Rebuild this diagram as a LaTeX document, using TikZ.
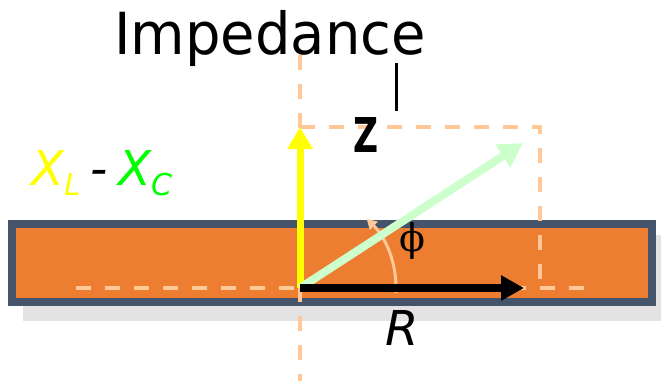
\documentclass[tikz,border=0pt]{standalone}
\usepackage{fontspec}
\setmainfont{DejaVu Sans}
\newfontfamily\phifont{DejaVu Serif}
\usetikzlibrary{arrows.meta, calc}
\definecolor{impOrange}{HTML}{ED7D31}
\definecolor{impSlate}{HTML}{44546A}
\definecolor{impShadow}{HTML}{E3E3E3}
\definecolor{impPeach}{HTML}{FFC896}
\definecolor{impMint}{HTML}{CCFFCC}
\definecolor{impYellow}{HTML}{FFFF00}
\definecolor{impGreen}{HTML}{00FF00}

\begin{document}
\begin{tikzpicture}[
    x=1pt, y=1pt,
    guide/.style={draw=impPeach, line width=3.5pt, dash pattern=on 15pt off 14pt},
    rarrow/.style={-{Triangle[length=23pt,width=24pt]}, line width=8pt, draw=black},
    xarrow/.style={-{Triangle[length=22pt,width=24pt]}, line width=7pt, draw=impYellow},
    zarrow/.style={-{Triangle[length=24pt,width=26pt]}, line width=8pt, draw=impMint},
    anglearc/.style={-{Triangle[length=10pt,width=11pt]}, line width=3pt, draw=impPeach},
    bigtitle/.style={inner sep=0pt, font=\fontsize{58}{60}\selectfont},
    vlabel/.style={inner sep=0pt, font=\fontsize{48}{50}\selectfont\itshape}
]
\useasboundingbox (0,0) rectangle (661,381);

% Band with shadow
\fill[impShadow] (23,60) rectangle (661,146);
\draw[impSlate, line width=8pt, fill=impOrange] (12,79) rectangle (652,157);

% Points of the phasor diagram
\coordinate (o) at (300,93);
\coordinate (rtip) at (524,93);
\coordinate (xtip) at (300,254);
\coordinate (ztip) at (523,238);
\coordinate (corner) at (540,254);
\coordinate (axisL) at (76,93);
\coordinate (axisR) at (588,93);
\coordinate (axisTop) at (300,326);
\coordinate (axisBot) at (300,0);
\coordinate (tickTop) at (396,318);
\coordinate (tickBot) at (396,270);

% Dashed guides
\draw[guide] (axisTop) -- (axisBot);
\draw[guide] (axisL) -- (axisR);
\draw[guide] (xtip) -- (corner) -- (rtip -| corner);

% Angle
\draw[anglearc] ($(o)+(-3:96)$) arc[start angle=-3, end angle=46, radius=96];

% Phasors
\draw[xarrow] (o) -- (xtip);
\draw[zarrow] (o) -- (ztip);
\draw[rarrow] (o) -- (rtip);
\draw[line width=3pt] (tickTop) -- (tickBot);

% Labels
\node[bigtitle, anchor=base] (title) at (270,326) {\scalebox{0.965}[1]{Impedance}};
\node[inner sep=0pt, anchor=base, font=\fontsize{48}{50}\selectfont\bfseries] (zlab) at (366,229) {\scalebox{0.72}[1]{Z}};
\node[vlabel, anchor=base west] (xlab) at (31,196) {%
    {\color{impYellow}X\raisebox{-10pt}{\fontsize{30}{30}\selectfont L}}%
    \hspace{10pt}-\hspace{10pt}%
    {\color{impGreen}X\raisebox{-10pt}{\fontsize{30}{30}\selectfont C}}};
\node[vlabel, anchor=base] (rlab) at (402,36) {R};
\node[inner sep=0pt, font=\fontsize{38}{40}\selectfont\phifont] (philab) at (412,140) {ϕ};

\end{tikzpicture}
\end{document}
